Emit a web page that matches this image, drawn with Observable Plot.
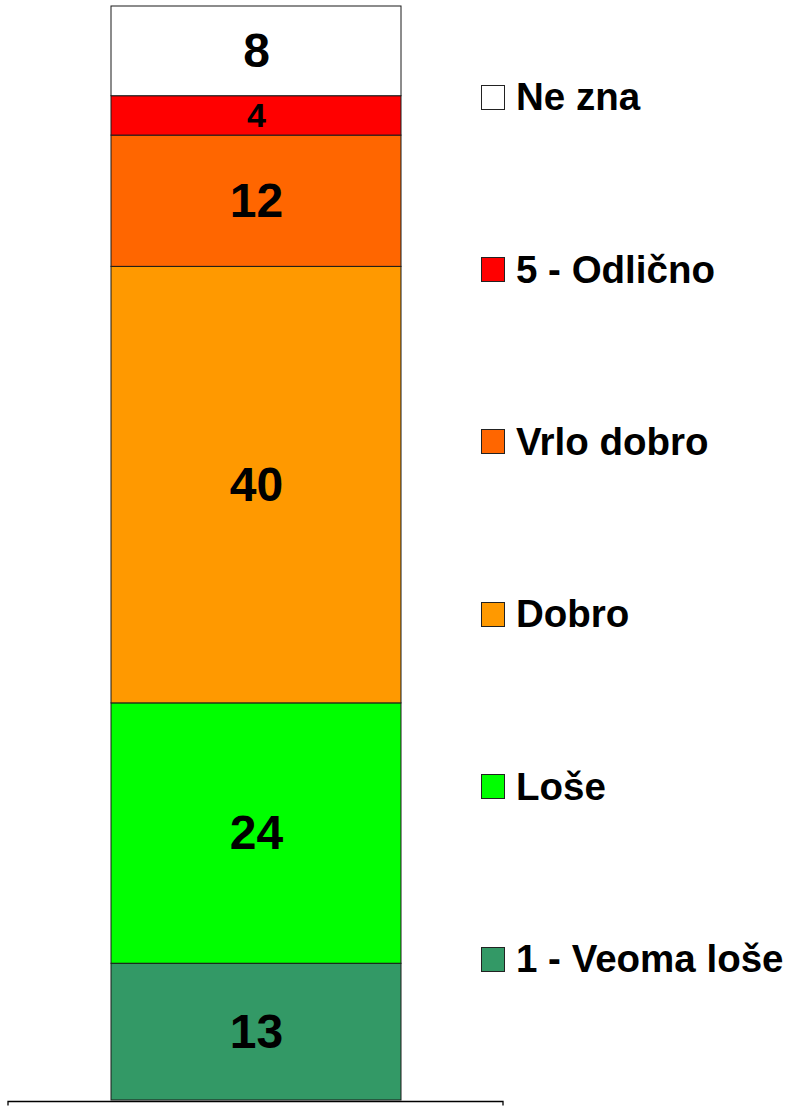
<!DOCTYPE html>
<html>
<head>
<meta charset="utf-8">
<script src="https://cdn.jsdelivr.net/npm/d3@7"></script>
<script src="https://cdn.jsdelivr.net/npm/@observablehq/plot@0.6"></script>
<style>
  html, body { margin: 0; padding: 0; background: #fff; }
  #wrap { position: relative; width: 787px; height: 1109px; }
  #legend { position: absolute; left: 481px; top: 11px; font-family: "Liberation Sans", Arial, sans-serif; font-weight: bold; font-size: 38.5px; color: #000; }
  .item { height: 172.4px; display: flex; align-items: center; white-space: nowrap; }
  .sw { width: 24px; height: 25px; border: 1px solid #222; box-sizing: border-box; margin-right: 11px; flex: none; }
</style>
</head>
<body>
<div id="wrap"><div id="legend"></div></div>
<script>
// Data (bottom to top)
const categories = ["1 - Veoma loše", "Loše", "Dobro", "Vrlo dobro", "5 - Odlično", "Ne zna"];
const shares = [12.5, 23.8, 39.9, 12.0, 3.6, 8.2];
const labels = ["13", "24", "40", "12", "4", "8"];
const colors = ["#339966", "#00FF00", "#FF9900", "#FF6600", "#FF0000", "#FFFFFF"];

const data = categories.map((c, i) => ({group: "all", category: c, value: shares[i], label: labels[i]}));

const W = 787, H = 1109;
const font = '"Liberation Sans", Arial, sans-serif';

const baseAxis = (index, scales, values, dims) => {
  const g = document.createElementNS("http://www.w3.org/2000/svg", "g");
  const x0 = dims.marginLeft, x1 = dims.width - dims.marginRight;
  const y = scales.y(0) + 1.5;
  g.innerHTML = `<path d="M${x0},${y + 4}V${y}H${x1}V${y + 4}" fill="none" stroke="#000" stroke-width="1.3"/>`;
  return g;
};

const chart = Plot.plot({
  width: W,
  height: H,
  marginLeft: 8,
  marginRight: W - 503,
  marginTop: 6,
  marginBottom: 9,
  style: {fontFamily: font, background: "transparent"},
  x: {domain: ["all"], paddingInner: 0.2605, paddingOuter: 0.2605, axis: null},
  y: {domain: [0, 100], axis: null},
  color: {domain: categories, range: colors},
  marks: [
    Plot.barY(data, Plot.stackY({x: "group", y: "value", fill: "category", stroke: "#1a1a1a", strokeWidth: 1})),
    Plot.text(data, Plot.stackY({
      x: "group", y: "value", text: "label",
      fontSize: d => d.value < 5 ? 34 : 48,
      fontWeight: "bold", fill: "#000", lineAnchor: "middle"
    })),
    baseAxis
  ]
});

document.getElementById("wrap").prepend(chart);
chart.style.position = "absolute";
chart.style.left = "0";
chart.style.top = "0";

const legend = document.getElementById("legend");
[...categories].reverse().forEach((c) => {
  const i = categories.indexOf(c);
  const item = document.createElement("div");
  item.className = "item";
  const sw = document.createElement("div");
  sw.className = "sw";
  sw.style.background = colors[i];
  const t = document.createElement("span");
  t.textContent = c;
  item.append(sw, t);
  legend.append(item);
});
</script>
</body>
</html>
